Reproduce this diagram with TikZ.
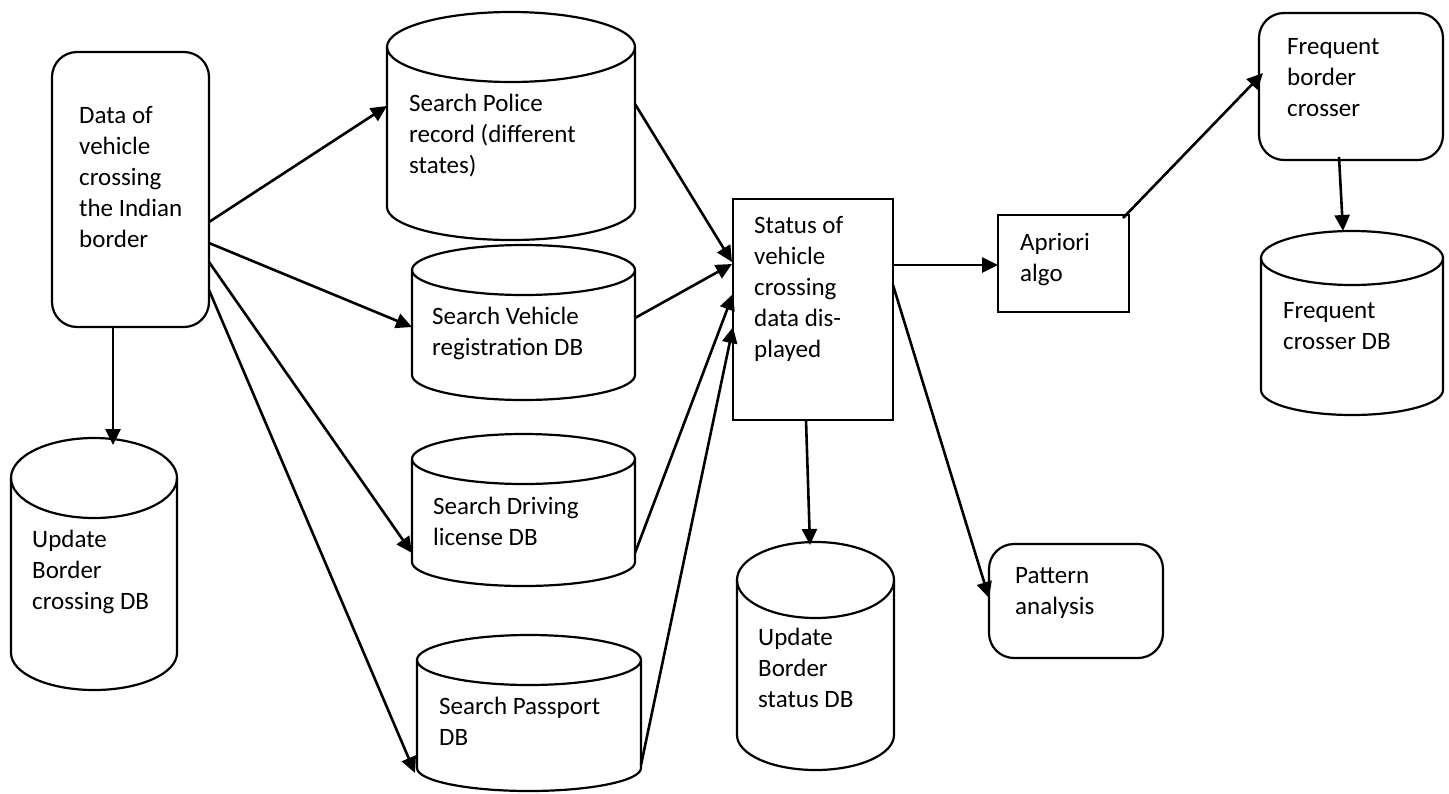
\documentclass[tikz,border=0pt]{standalone}
\usepackage{fontspec}
\setmainfont{Carlito}
\usetikzlibrary{arrows.meta}
\newcommand{\dbcyl}[7]{% name, x1, x2, ytop, rytop, ybot, rybot
  \pgfmathsetmacro{\cx}{(#2+#3)/2}
  \pgfmathsetmacro{\crx}{(#3-#2)/2}
  \node[inner sep=0pt, minimum width={(#3-#2)*1pt}, minimum height={(#6+#7-#4+#5)*1pt}] (#1) at (\cx,{(#4-#5+#6+#7)/2}) {};
  \draw[shapeline] (\cx,#4) ellipse [x radius=\crx, y radius=#5];
  \draw[shapeline] (#2,#4) -- (#2,#6) arc[start angle=180, end angle=0, x radius=\crx, y radius=#7] -- (#3,#4);
}
\begin{document}
\begin{tikzpicture}[x=1pt,y=-1pt,
  shapeline/.style={line width=2.2pt, black},
  roundbox/.style={draw, line width=2.2pt, rounded corners=25pt, inner sep=0pt},
  sqbox/.style={draw, line width=2.2pt, inner sep=0pt},
  lbl/.style={anchor=base west, inner sep=0pt, align=left, font=\fontsize{25}{31}\selectfont},
  arr/.style={line width=2.6pt, -{Triangle[length=16pt,width=15pt]}}]
\useasboundingbox (0,0) rectangle (1449,793);
\fill[white] (0,0) rectangle (1449,793);

% boxes (label positions give the baseline of the last line)
\node[roundbox, minimum width=157pt, minimum height=275pt] (data) at (130.5,189.5) {};
\node[lbl] (datat) at (79,247) {Data of\\vehicle\\crossing\\the Indian\\border};

\node[sqbox, minimum width=160pt, minimum height=221pt] (status) at (813,309.5) {};
\node[lbl] (statust) at (754,357) {Status of\\vehicle\\crossing\\data dis-\\played};

\node[sqbox, minimum width=131pt, minimum height=97pt] (apriori) at (1063.5,263.5) {};
\node[lbl] (apriorit) at (1020,281) {Apriori\\algo};

\node[roundbox, minimum width=184pt, minimum height=147pt] (fbc) at (1351,86.5) {};
\node[lbl] (fbct) at (1287,116) {Frequent\\border\\crosser};

\node[roundbox, minimum width=174pt, minimum height=114pt] (pattern) at (1076,601) {};
\node[lbl] (patternt) at (1015,614) {Pattern\\analysis};

% cylinders
\dbcyl{police}{387}{635}{47}{35}{207}{33}
\node[lbl] (policet) at (409,173) {Search Police\\record (different\\states)};
\dbcyl{vehicle}{412}{635}{270}{25}{375}{25}
\node[lbl] (vehiclet) at (432,355) {Search Vehicle\\registration DB};
\dbcyl{driving}{412}{635}{459}{25}{562}{24}
\node[lbl] (drivingt) at (433,545) {Search Driving\\license DB};
\dbcyl{passport}{417}{641}{660}{25}{768}{23}
\node[lbl] (passportt) at (439,745) {Search Passport\\DB};
\dbcyl{ubc}{11}{177}{478}{40}{653}{37}
\node[lbl] (ubct) at (32,609) {Update\\Border\\crossing DB};
\dbcyl{ubs}{737}{894}{580}{38}{735}{35}
\node[lbl] (ubst) at (758,707) {Update\\Border\\status DB};
\dbcyl{fcdb}{1261}{1443}{258}{27}{390}{25}
\node[lbl] (fcdbt) at (1283,349) {Frequent\\crosser DB};

% connector end points
\coordinate (d1) at (209,222);
\coordinate (d2) at (209,243);
\coordinate (d3) at (209,262);
\coordinate (d4) at (209,290);
\coordinate (d5) at (113,327);
\coordinate (p-w) at (387,106);
\coordinate (v-w) at (412,327);
\coordinate (dr-w) at (412,553);
\coordinate (pp-w) at (415,773);
\coordinate (ubc-n) at (113,445);
\coordinate (p-e) at (635,104);
\coordinate (v-e) at (635,318);
\coordinate (dr-e) at (635,553);
\coordinate (pp-e) at (641,765);
\coordinate (s1) at (732,262);
\coordinate (s2) at (732,264);
\coordinate (s3) at (733,294);
\coordinate (s4) at (733,327);
\coordinate (s-e1) at (893,265);
\coordinate (s-e2) at (893,285);
\coordinate (s-s) at (806,420);
\coordinate (a-w) at (998,265);
\coordinate (ubs-n) at (810,545);
\coordinate (pa-w) at (989,598);
\coordinate (a-ne) at (1123,218);
\coordinate (f-w) at (1263,73);
\coordinate (f-s) at (1339,157);
\coordinate (fc-n) at (1343,231);

\draw[arr] (d1) -- (p-w);
\draw[arr] (d2) -- (v-w);
\draw[arr] (d3) -- (dr-w);
\draw[arr] (d4) -- (pp-w);
\draw[arr] (d5) -- (ubc-n);
\draw[arr] (p-e) -- (s1);
\draw[arr] (v-e) -- (s2);
\draw[arr] (dr-e) -- (s3);
\draw[arr] (pp-e) -- (s4);
\draw[arr] (s-e1) -- (a-w);
\draw[arr] (s-s) -- (ubs-n);
\draw[arr] (s-e2) -- (pa-w);
\draw[arr] (a-ne) -- (f-w);
\draw[arr] (f-s) -- (fc-n);
\end{tikzpicture}
\end{document}
